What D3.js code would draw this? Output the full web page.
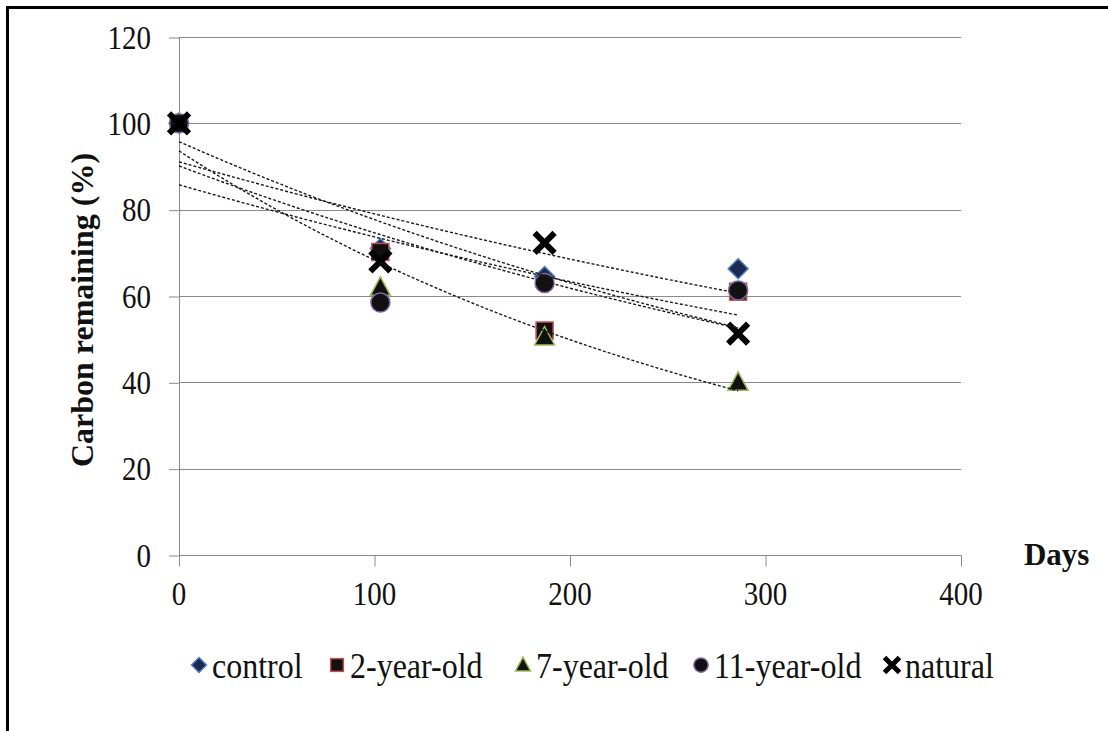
<!DOCTYPE html>
<html><head><meta charset="utf-8">
<script src="https://cdn.jsdelivr.net/npm/d3@7"></script>
<style>body{margin:0;background:#fff} svg{display:block}</style>
</head><body><svg id="c" width="1108" height="731"></svg>
<script>
// ---- data ----
const days = [0, 103, 187, 286];
const seriesNames = ["control", "2-year-old", "7-year-old", "11-year-old", "natural"];
const control = [100, 71, 64.5, 66.3];
const yr2 = [100, 70.2, 52, 61];
const yr7 = [100, 62, 50.5, 40];
const yr11 = [100, 58.5, 63, 61.3];
const natural = [100, 68, 72.3, 51.3];
const xTicks = [0, 100, 200, 300, 400];
const yTicks = [0, 20, 40, 60, 80, 100, 120];
const xTitle = "Days";
const yTitle = "Carbon remaining (%)";

const seriesValues = [control, yr2, yr7, yr11, natural];
const seriesStyle = [
  {shape: "diamond", fill: "#1c2a55", stroke: "#4F81BD"},
  {shape: "square", fill: "#111", stroke: "#C0504D"},
  {shape: "triangle", fill: "#111", stroke: "#9BBB59"},
  {shape: "circle", fill: "#111", stroke: "#8064A2"},
  {shape: "x", fill: "#000", stroke: "#000"}
];

const svg = d3.select("#c");
const serif = "'Liberation Serif','Times New Roman',serif";
const SY = 1.15;

// frame
svg.append("rect").attr("x", 7.5).attr("y", 7.5).attr("width", 1300).attr("height", 1000)
  .attr("fill", "none").attr("stroke", "#000").attr("stroke-width", 3);

const x = d3.scaleLinear().domain([0, 400]).range([179, 961]);
const y = d3.scaleLinear().domain([0, 120]).range([555, 37]);
const gridCol = "#8a8a8a";

// left ticks
const yAxis = d3.axisLeft(y).tickValues(yTicks).tickSize(10).tickFormat("");
const gy = svg.append("g").attr("transform", `translate(${x(0)},0.5)`).call(yAxis);
gy.selectAll("line").attr("stroke", gridCol);
gy.select(".domain").remove();
// horizontal gridlines
svg.append("g").selectAll("line").data(yTicks).join("line")
  .attr("x1", x(0)).attr("x2", x(400))
  .attr("y1", d => Math.round(y(d)) + 0.5).attr("y2", d => Math.round(y(d)) + 0.5)
  .attr("stroke", gridCol).attr("stroke-width", 1);
// y axis line
svg.append("line").attr("x1", x(0) + 0.5).attr("x2", x(0) + 0.5).attr("y1", y(120)).attr("y2", y(0))
  .attr("stroke", gridCol);
// x axis ticks
const xAxis = d3.axisBottom(x).tickValues(xTicks).tickSize(11).tickFormat("");
const gx = svg.append("g").attr("transform", `translate(0,${Math.round(y(0)) + 0.5})`).call(xAxis);
gx.selectAll("line").attr("stroke", gridCol);
gx.select(".domain").remove();

// tick labels
svg.append("g").selectAll("text").data(yTicks).join("text")
  .attr("transform", d => `translate(151,${y(d)}) scale(1,${SY})`)
  .attr("text-anchor", "end").attr("dy", "0.35em")
  .attr("font-family", serif).attr("font-size", 29).attr("fill", "#111")
  .text(d => d);
svg.append("g").selectAll("text").data(xTicks).join("text")
  .attr("transform", d => `translate(${x(d)},593) scale(1,${SY})`)
  .attr("text-anchor", "middle").attr("dy", "0.35em")
  .attr("font-family", serif).attr("font-size", 29).attr("fill", "#111")
  .text(d => d);

// axis titles
svg.append("text").attr("transform", `translate(1024,565) scale(1,1.05)`)
  .attr("font-family", serif).attr("font-weight", "bold").attr("font-size", 31).attr("fill", "#111")
  .text(xTitle);
svg.append("text").attr("transform", `translate(93,310) rotate(-90)`)
  .attr("text-anchor", "middle")
  .attr("font-family", serif).attr("font-weight", "bold").attr("font-size", 32).attr("fill", "#111")
  .text(yTitle);

// marker drawing
function marker(g, shape, s) {
  if (shape === "diamond") return g.append("path").attr("d", `M0,${-s}L${s},0L0,${s}L${-s},0Z`);
  if (shape === "square") return g.append("rect").attr("x", -s * 0.85).attr("y", -s * 0.85).attr("width", s * 1.7).attr("height", s * 1.7);
  if (shape === "triangle") return g.append("path").attr("d", `M0,${-s * 1.05}L${s},${s * 0.8}L${-s},${s * 0.8}Z`);
  if (shape === "circle") return g.append("circle").attr("r", s * 0.95);
  if (shape === "x") return g.append("path").attr("d", `M${-s},${-s}L${s},${s}M${s},${-s}L${-s},${s}`);
}
function styleMarker(m, st, big) {
  if (st.shape === "x") m.attr("fill", "none").attr("stroke", "#000").attr("stroke-width", big ? 6 : 5);
  else m.attr("fill", st.fill).attr("stroke", st.stroke).attr("stroke-width", 1.5);
}

// markers
const plot = svg.append("g");
seriesValues.forEach((vals, i) => {
  const st = seriesStyle[i];
  vals.forEach((v, j) => {
    const g = plot.append("g").attr("transform", `translate(${x(days[j])},${y(v)})`);
    styleMarker(marker(g, st.shape, 10), st, true);
  });
});

// exponential trendlines (least squares on ln y)
seriesValues.forEach(vals => {
  const lx = days, ly = vals.map(Math.log);
  const mx = d3.mean(lx), my = d3.mean(ly);
  const b = d3.sum(lx, (d, k) => (d - mx) * (ly[k] - my)) / d3.sum(lx, d => (d - mx) ** 2);
  const a = Math.exp(my - b * mx);
  const xs = d3.range(0, days[days.length - 1] + 0.001, 2);
  const line = d3.line().x(d => x(d)).y(d => y(a * Math.exp(b * d)));
  plot.append("path").attr("d", line(xs)).attr("fill", "none")
    .attr("stroke", "#1a1a1a").attr("stroke-width", 1.4).attr("stroke-dasharray", "3,2");
});

// legend
const legStarts = [199, 337, 523, 701, 892];
const leg = svg.append("g");
seriesNames.forEach((name, i) => {
  const st = seriesStyle[i];
  const g = leg.append("g").attr("transform", `translate(${legStarts[i]},665)`);
  styleMarker(marker(g, st.shape, 7.5), st, false);
  g.append("text").attr("transform", `translate(13,0) scale(1,${SY})`).attr("dy", "0.35em")
    .attr("font-family", serif).attr("font-size", 32).attr("fill", "#111").text(name);
});
</script></body></html>
